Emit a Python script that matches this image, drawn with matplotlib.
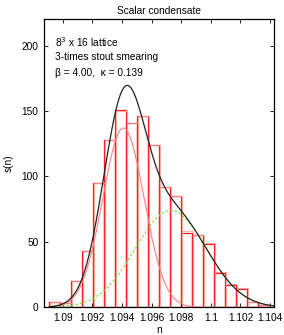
import numpy as np
import matplotlib
matplotlib.use("Agg")
import matplotlib.pyplot as plt

# histogram of the scalar condensate, 20 bins
bin_edges = np.linspace(1.0891, 1.10396, 21)
counts = [4, 3, 20, 43, 95, 128, 151, 141, 146, 124, 92, 85, 57, 55, 48, 26, 17, 14, 4, 2]
counts_2 = [4, 3, 20, 43, 95, 128, 150, 141, 146, 124, 92, 85, 58, 55, 49, 27, 18, 15, 4, 2]

# two gaussian fits (amplitude, mean, sigma)
peak_1 = (137.0, 1.0941, 0.0014)
peak_2 = (74.0, 1.0973, 0.0024)

xticks = [1.09, 1.092, 1.094, 1.096, 1.098, 1.1, 1.102, 1.104]
xtick_labels = ["1.09", "1.092", "1.094", "1.096", "1.098", "1.1", "1.102", "1.104"]
yticks = [0, 50, 100, 150, 200]

plt.rcParams['font.family'] = ['Liberation Sans', 'DejaVu Sans']
plt.rcParams['font.size'] = 7.3

fig = plt.figure(figsize=(2.84, 3.35), dpi=100)
ax = fig.add_axes([0.155, 0.0827, 0.811, 0.8593])

widths = np.diff(bin_edges)
ax.bar(bin_edges[:-1], counts, width=widths, align='edge', fill=False,
       edgecolor='#ff1a1a', linewidth=0.9)
ax.bar(bin_edges[:-1] + 0.00005, counts_2, width=widths, align='edge', fill=False,
       edgecolor='#ff9c9c', linewidth=0.8, alpha=0.8)


def gauss(x, p):
    a, mu, s = p
    return a * np.exp(-(x - mu) ** 2 / (2 * s ** 2))


xs = np.linspace(1.0891, 1.1043, 400)
g1 = gauss(xs, peak_1)
g2 = gauss(xs, peak_2)
ax.plot(xs, g1, color='#ff8080', lw=0.8)
ax.plot(xs, g2, color='#55ee33', lw=0.8, ls=(0, (2, 2)))
ax.plot(xs, g1 + g2, color='#222222', lw=0.9)

ax.set_xlim(1.08874, 1.10429)
ax.set_ylim(0, 220)
ax.set_xticks(xticks)
ax.set_xticklabels(xtick_labels)
ax.set_yticks(yticks)
ax.tick_params(direction='in', length=3, width=0.6, top=True, right=True, pad=4)
for sp in ax.spines.values():
    sp.set_linewidth(0.9)

ax.set_title("Scalar condensate", fontsize=7.3, pad=4)
ax.set_xlabel("n")
ax.set_ylabel("s(n)")
ax.xaxis.set_label_coords(0.5, -0.06)
ax.yaxis.set_label_coords(-0.13, 0.5)

ax.text(0.047, 0.92, r"8$^3$ x 16 lattice", transform=ax.transAxes, va='center')
ax.text(0.047, 0.868, "3-times stout smearing", transform=ax.transAxes, va='center')
ax.text(0.047, 0.815, "\u03b2 = 4.00,  \u03ba = 0.139", transform=ax.transAxes, va='center')

fig.savefig("out.png", dpi=100)
